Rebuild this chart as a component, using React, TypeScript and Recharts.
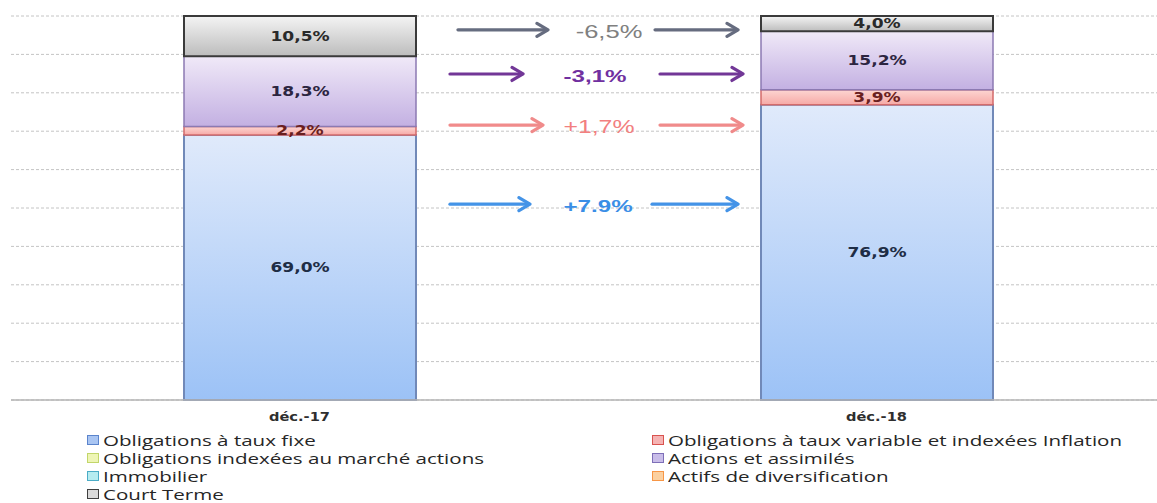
import React from 'react';
import {
  BarChart,
  Bar,
  XAxis,
  YAxis,
  CartesianGrid,
  LabelList,
  Legend,
  ReferenceLine,
} from 'recharts';

// Asset allocation, share of the portfolio (%) at each year end
const periods = ['déc.-17', 'déc.-18'];
const tauxFixe = [69.0, 76.9];
const tauxVariable = [2.2, 3.9];
const indexeesActions = [0, 0];
const actions = [18.3, 15.2];
const immobilier = [0, 0];
const diversification = [0, 0];
const courtTerme = [10.5, 4.0];
const yTicks = [0, 10, 20, 30, 40, 50, 60, 70, 80, 90, 100];

const seriesValues: Record<string, number[]> = {
  tauxFixe,
  tauxVariable,
  indexeesActions,
  actions,
  immobilier,
  diversification,
  courtTerme,
};

const data = periods.map((period, i) => {
  const row: Record<string, string | number> = { period };
  Object.keys(seriesValues).forEach((k) => {
    row[k] = seriesValues[k][i];
  });
  return row;
});

// Stack order, bottom to top
const series = [
  { key: 'tauxFixe', name: 'Obligations à taux fixe', top: '#e0eafb', bottom: '#9cc2f6', stroke: '#7189b8', sw: 2, swatch: '#a9c5f2', swatchBorder: '#5b84cc', label: '#1e2d45' },
  { key: 'tauxVariable', name: 'Obligations à taux variable et indexées Inflation', top: '#fdd6d2', bottom: '#f6a9a6', stroke: '#d46b6b', sw: 1.5, swatch: '#f5b3b3', swatchBorder: '#d9534f', label: '#6a1f1f' },
  { key: 'indexeesActions', name: 'Obligations indexées au marché actions', top: '#f4f8d0', bottom: '#e0ec98', stroke: '#b9cc5c', sw: 1.5, swatch: '#eef5b5', swatchBorder: '#c2d66a', label: '#333' },
  { key: 'actions', name: 'Actions et assimilés', top: '#f0e9f8', bottom: '#c3b0e2', stroke: '#8c7ab2', sw: 1.5, swatch: '#c9bde9', swatchBorder: '#7e6fb8', label: '#2c2540' },
  { key: 'immobilier', name: 'Immobilier', top: '#ddf6f8', bottom: '#a9e6ec', stroke: '#4bacc6', sw: 1.5, swatch: '#b6ecf0', swatchBorder: '#4bacc6', label: '#333' },
  { key: 'diversification', name: 'Actifs de diversification', top: '#fde6cc', bottom: '#fbc48a', stroke: '#f79646', sw: 1.5, swatch: '#fbd0a0', swatchBorder: '#f79646', label: '#333' },
  { key: 'courtTerme', name: 'Court Terme', top: '#f4f4f4', bottom: '#bcbcbc', stroke: '#3a3a3a', sw: 2, swatch: '#dadada', swatchBorder: '#404040', label: '#2a2a2a' },
];

// Change annotations between the two year ends
const changeRows = [
  { key: 'courtTerme', at: 96.4, sep: ',', arrow: '#5e6579', text: '#808080', weight: 400, size: 18, a1: [0.3873, 0.4653], lbl: 0.5182, a2: [0.5581, 0.63] },
  { key: 'actions', at: 84.9, sep: ',', arrow: '#6b2d92', text: '#7030a0', weight: 700, size: 17, a1: [0.3804, 0.4437], lbl: 0.5061, a2: [0.5624, 0.6343] },
  { key: 'tauxVariable', at: 71.6, sep: ',', arrow: '#f08585', text: '#f28080', weight: 400, size: 17.5, a1: [0.3804, 0.461], lbl: 0.5095, a2: [0.5624, 0.6343] },
  { key: 'tauxFixe', at: 51.0, sep: '.', arrow: '#3a8ee6', text: '#3a8ee6', weight: 600, size: 17, a1: [0.3804, 0.4497], lbl: 0.5087, a2: [0.5555, 0.63] },
];

const FONT = '"DejaVu Sans", sans-serif';
const STRETCH = 1.18;

const fmtPct = (v: number, sep = ',') => v.toFixed(1).replace('.', sep) + '%';

const changeText = (key: string, sep: string) => {
  const diff = Number(data[1][key]) - Number(data[0][key]);
  const r = Math.round(diff * 10) / 10;
  return (r > 0 ? '+' : '') + fmtPct(r, sep);
};

const makeBarLabel = (color: string) => (props: any) => {
  const value = Number(props.value);
  if (!value) return null;
  const vb = props.viewBox ?? props;
  const x = Number(vb.x);
  const y = Number(vb.y);
  const w = Number(vb.width);
  const h = Number(vb.height);
  const cx = x + w / 2;
  const cy = y + h / 2;
  return (
    <text
      transform={`translate(${cx},${cy}) scale(${STRETCH + 0.04},1)`}
      textAnchor="middle"
      dominantBaseline="central"
      fill={color}
      fontFamily={FONT}
      fontWeight="bold"
      fontSize={14}
    >
      {fmtPct(value)}
    </text>
  );
};

const Arrow = ({ xa, xb, y, color }: { xa: number; xb: number; y: number; color: string }) => (
  <g stroke={color} strokeWidth={3.2} strokeLinecap="round" strokeLinejoin="round" fill="none" opacity={0.95}>
    <line x1={xa} y1={y} x2={xb - 1} y2={y} />
    <polyline points={`${xb - 11},${y - 6.5} ${xb},${y} ${xb - 11},${y + 6.5}`} />
  </g>
);

const changeShape = (row: (typeof changeRows)[number]) => (p: any) => {
  const x1 = Number(p.x1);
  const x2 = Number(p.x2);
  const y = Number(p.y1);
  const at = (f: number) => x1 + f * (x2 - x1);
  const lx = at(row.lbl);
  return (
    <g>
      <Arrow xa={at(row.a1[0])} xb={at(row.a1[1])} y={y} color={row.arrow} />
      <text
        transform={`translate(${lx},${y + 2}) scale(1.42,1)`}
        textAnchor="middle"
        dominantBaseline="central"
        fill={row.text}
        fontFamily='"Liberation Sans", Arial, sans-serif'
        fontWeight={row.weight}
        fontSize={row.size}
      >
        {changeText(row.key, row.sep)}
      </text>
      <Arrow xa={at(row.a2[0])} xb={at(row.a2[1])} y={y} color={row.arrow} />
    </g>
  );
};

const CategoryTick = (props: any) => {
  const { x, y, payload } = props;
  return (
    <text
      transform={`translate(${x},${Number(y) + 17}) scale(${STRETCH + 0.04},1)`}
      textAnchor="middle"
      dominantBaseline="central"
      fill="#2e2e2e"
      fontFamily={FONT}
      fontWeight="bold"
      fontSize={12}
    >
      {payload.value}
    </text>
  );
};

const LegendContent = () => {
  const rows: (typeof series)[] = [];
  for (let i = 0; i < series.length; i += 2) rows.push(series.slice(i, i + 2));
  return (
    <div style={{ position: 'relative', fontFamily: '"Open Sans", sans-serif', fontSize: 15, color: '#262626' }}>
      {rows.map((pair, r) =>
        pair.map((s, c) => (
          <div
            key={s.key}
            style={{
              position: 'absolute',
              left: c === 0 ? 87 : 652,
              top: r * 18,
              height: 18,
              lineHeight: '18px',
              whiteSpace: 'nowrap',
              display: 'flex',
              alignItems: 'center',
            }}
          >
            <span
              style={{
                display: 'inline-block',
                width: 10,
                height: 8,
                background: s.swatch,
                border: `1px solid ${s.swatchBorder}`,
                marginRight: 4,
              }}
            />
            <span style={{ display: 'inline-block', transform: 'scaleX(1.37)', transformOrigin: 'left center' }}>
              {s.name}
            </span>
          </div>
        ))
      )}
    </div>
  );
};

// Horizontal grid lines at the value ticks of the (hidden) percentage axis
const gridRows = (props: any) => {
  const scale = props?.yAxis?.scale;
  if (typeof scale === 'function') return yTicks.map((t) => Number(scale(t)));
  if (scale && typeof scale.map === 'function') return yTicks.map((t) => Number(scale.map(t)));
  return [];
};

export default function App() {
  return (
    <div
      style={{
        position: 'fixed',
        left: 0,
        top: 0,
        width: 1157,
        height: 503,
        overflow: 'hidden',
        background: '#ffffff',
      }}
    >
      <BarChart
        width={1170}
        height={503}
        data={data}
        margin={{ top: 16, right: 5, bottom: 73, left: 11 }}
        barSize={232}
      >
        <defs>
          {series.map((s) => (
            <linearGradient key={s.key} id={`grad-${s.key}`} x1="0" y1="0" x2="0" y2="1">
              <stop offset="0%" stopColor={s.top} />
              <stop offset="100%" stopColor={s.bottom} />
            </linearGradient>
          ))}
        </defs>
        <CartesianGrid
          vertical={false}
          stroke="#c4c4c4"
          strokeDasharray="3 2"
          horizontalCoordinatesGenerator={gridRows}
        />
        <XAxis
          dataKey="period"
          height={30}
          tick={<CategoryTick />}
          tickLine={false}
          tickSize={0}
          tickMargin={0}
          axisLine={{ stroke: '#b4b4b4', strokeWidth: 1.5 }}
        />
        <YAxis hide domain={[0, 100]} ticks={yTicks} />
        {series.map((s) => (
          <Bar
            key={s.key}
            dataKey={s.key}
            name={s.name}
            stackId="alloc"
            fill={`url(#grad-${s.key})`}
            stroke={s.stroke}
            strokeWidth={s.sw}
            isAnimationActive={false}
          >
            <LabelList dataKey={s.key} content={makeBarLabel(s.label)} />
          </Bar>
        ))}
        {changeRows.map((row) => (
          <ReferenceLine
            key={row.key}
            y={row.at}
            stroke="none"
            shape={changeShape(row)}
          />
        ))}
        <Legend
          content={<LegendContent />}
          wrapperStyle={{ position: 'absolute', top: 431, left: 0, bottom: 'auto', width: 1157, height: 0 }}
        />
      </BarChart>
    </div>
  );
}
